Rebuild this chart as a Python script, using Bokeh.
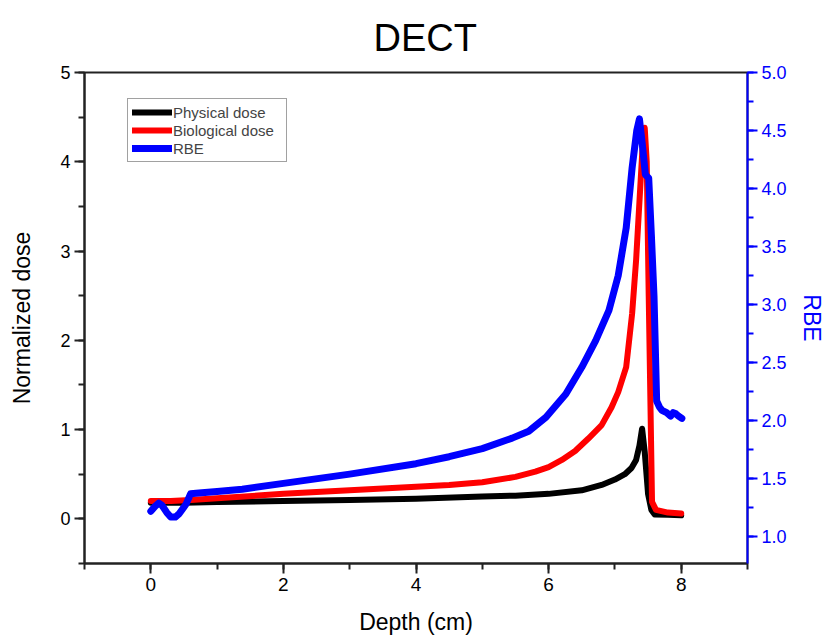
from bokeh.plotting import figure
from bokeh.models import Range1d, LinearAxis, SingleIntervalTicker, Legend, LegendItem, NumeralTickFormatter
from bokeh.embed import file_html
from bokeh.resources import INLINE

# ---- data ----
phys_depth = [0.0, 0.5, 1.0, 2.0, 3.0, 4.0, 5.0, 5.5, 6.0, 6.5, 6.8, 7.0, 7.15, 7.25, 7.32, 7.37, 7.41,
              7.45, 7.5, 7.55, 7.6, 7.8, 8.0]
phys_dose = [0.18, 0.18, 0.19, 0.20, 0.21, 0.225, 0.25, 0.26, 0.28, 0.32, 0.38, 0.44, 0.50, 0.57, 0.66, 0.82, 1.01,
             0.75, 0.28, 0.10, 0.05, 0.045, 0.04]

bio_depth = [0.0, 0.3, 0.6, 1.0, 2.0, 3.0, 4.0, 4.5, 5.0, 5.5, 5.8, 6.0, 6.2, 6.4, 6.6, 6.8, 6.95, 7.05,
             7.17, 7.26, 7.32, 7.37, 7.42, 7.45, 7.48, 7.51, 7.56, 7.62, 7.8, 8.0]
bio_dose = [0.20, 0.20, 0.21, 0.23, 0.28, 0.32, 0.36, 0.38, 0.41, 0.47, 0.53, 0.58, 0.66, 0.76, 0.90, 1.05, 1.25, 1.42,
            1.70, 2.30, 2.90, 3.55, 4.20, 4.38, 4.00, 2.50, 0.19, 0.10, 0.07, 0.06]

rbe_depth = [0.0, 0.06, 0.12, 0.17, 0.24, 0.30, 0.37, 0.43, 0.53, 0.60, 0.77, 1.0, 1.38, 2.0, 3.0, 4.0, 4.5,
             5.0, 5.45, 5.7, 5.96, 6.26, 6.5, 6.71, 6.91, 7.05, 7.17, 7.26, 7.33, 7.37, 7.41, 7.46, 7.51,
             7.55, 7.59, 7.63, 7.67, 7.71, 7.78, 7.84, 7.88, 7.92, 7.96, 8.01]
rbe = [1.22, 1.26, 1.29, 1.27, 1.21, 1.17, 1.17, 1.20, 1.28, 1.37, 1.38, 1.39, 1.41, 1.46, 1.54, 1.63, 1.69,
       1.76, 1.85, 1.91, 2.03, 2.23, 2.46, 2.69, 2.95, 3.25, 3.66, 4.18, 4.50, 4.60, 4.40, 4.12, 4.09,
       3.60, 3.07, 2.17, 2.12, 2.09, 2.07, 2.04, 2.07, 2.06, 2.04, 2.02]

title_text = "DECT"
x_label = "Depth (cm)"
y_label = "Normalized dose"
y2_label = "RBE"
series_names = ["Physical dose", "Biological dose", "RBE"]

FONT = "Liberation Sans"
BLUE = "#0000FF"

p = figure(width=827, height=640, x_range=Range1d(-1, 9), y_range=Range1d(-0.5, 5),
           output_backend="svg", toolbar_location=None, title=title_text,
           min_border_left=84, min_border_right=76, min_border_top=72, min_border_bottom=77)

p.title.text_font = FONT
p.title.text_font_size = "38px"
p.title.text_font_style = "normal"
p.title.text_color = "black"
p.title.align = "left"
p.title.offset = 289
p.title.standoff = 28

p.xgrid.visible = False
p.ygrid.visible = False
p.outline_line_color = "#222222"
p.outline_line_width = 2
p.background_fill_color = "white"
p.border_fill_color = "white"

p.extra_y_ranges = {"rbe": Range1d(0.77, 5.0)}

# bottom axis
xa = p.xaxis[0]
xa.ticker = SingleIntervalTicker(interval=2, num_minor_ticks=2)
xa.axis_label = x_label
# left axis
ya = p.yaxis[0]
ya.ticker = SingleIntervalTicker(interval=1, num_minor_ticks=2)
ya.axis_label = y_label
# right axis
ra = LinearAxis(y_range_name="rbe", ticker=SingleIntervalTicker(interval=0.5, num_minor_ticks=2),
                formatter=NumeralTickFormatter(format="0.0"), axis_label=y2_label)
p.add_layout(ra, "right")

for ax, col in ((xa, "#222222"), (ya, "#222222"), (ra, BLUE)):
    ax.axis_line_color = col
    ax.axis_line_width = 2
    ax.major_tick_line_color = col
    ax.minor_tick_line_color = col
    ax.major_tick_line_width = 2
    ax.minor_tick_line_width = 2
    ax.major_tick_in = 0
    ax.minor_tick_in = 0
    ax.major_tick_out = 10
    ax.minor_tick_out = 6
    ax.major_label_text_font = FONT
    ax.major_label_text_font_size = "18px"
    ax.major_label_text_color = "black" if col != BLUE else BLUE
    ax.axis_label_text_font = FONT
    ax.axis_label_text_font_size = "23px"
    ax.axis_label_text_font_style = "normal"
    ax.axis_label_text_color = "black" if col != BLUE else BLUE
    ax.major_label_standoff = 4

xa.major_label_text_font_size = "19px"
xa.axis_label_standoff = 15
ya.axis_label_standoff = 22
ra.axis_label_standoff = 9

r_phys = p.line(phys_depth, phys_dose, line_color="black", line_width=6, line_join="round", line_cap="round")
r_bio = p.line(bio_depth, bio_dose, line_color="#FF0000", line_width=6, line_join="round", line_cap="round")
r_rbe = p.line(rbe_depth, rbe, line_color=BLUE, line_width=7, line_join="round", line_cap="round",
               y_range_name="rbe")

legend = Legend(items=[LegendItem(label=series_names[0], renderers=[r_phys]),
                       LegendItem(label=series_names[1], renderers=[r_bio]),
                       LegendItem(label=series_names[2], renderers=[r_rbe])],
                location=(43, 401))
legend.label_text_font = FONT
legend.label_text_font_size = "15px"
legend.glyph_width = 40
legend.glyph_height = 18
legend.label_height = 18
legend.label_width = 109
legend.label_standoff = 1
legend.spacing = 0
legend.padding = 4
legend.margin = 0
legend.border_line_color = "#444444"
legend.border_line_width = 1
legend.background_fill_alpha = 1.0
p.add_layout(legend)

open("out.html", "w").write(file_html(p, INLINE))
